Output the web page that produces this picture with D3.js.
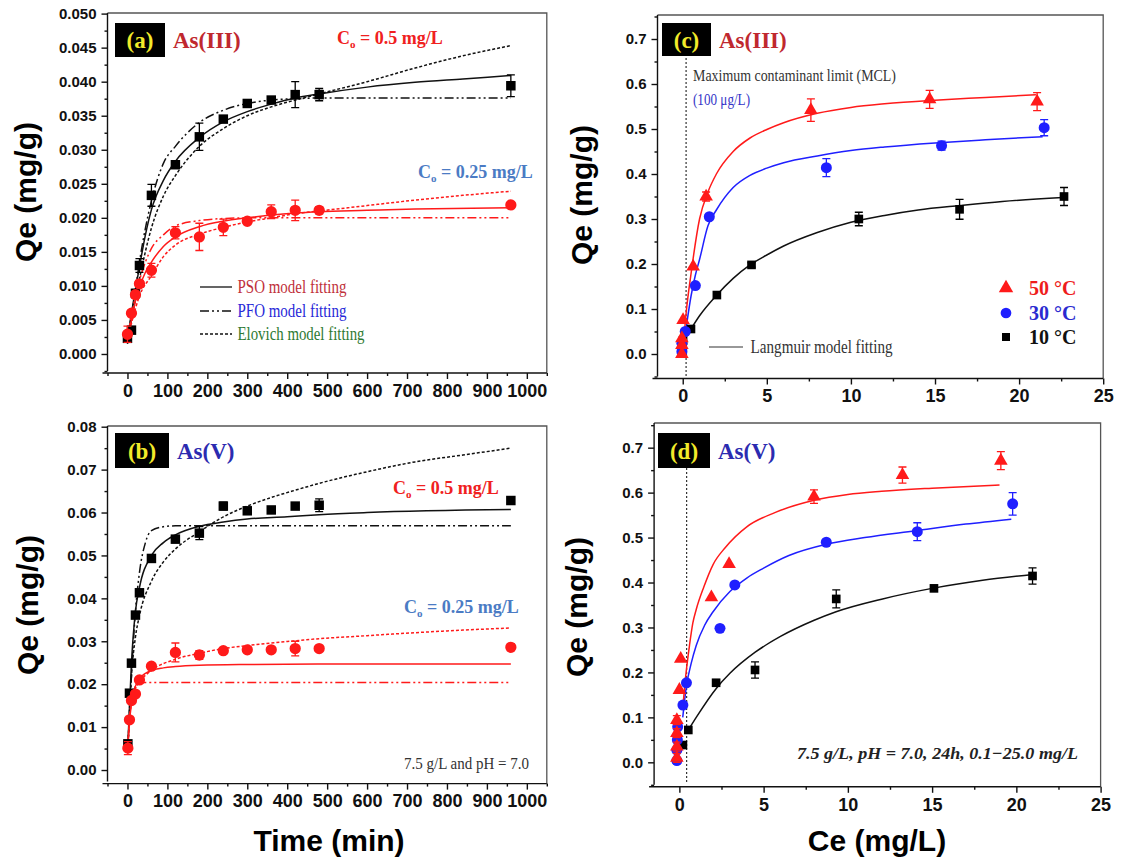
<!DOCTYPE html>
<html>
<head>
<meta charset="utf-8">
<script src="https://cdn.jsdelivr.net/npm/d3@7"></script>
<style>
  body { margin: 0; background: #fff; }
  svg { display: block; }
</style>
</head>
<body>
<div id="chart"></div>
<script>
// ---------- (a) As(III) kinetics ----------
const timeA = [0, 10, 20, 30, 60, 120, 180, 240, 300, 360, 420, 480, 960]
const qA_05 = [0.0023, 0.0035, 0.0089, 0.0130, 0.0233, 0.0278, 0.0319, 0.0345, 0.0368, 0.0373, 0.0381, 0.0381, 0.0394]
const errA_05 = [0.0003, 0.0004, 0.0006, 0.0010, 0.0016, 0.0004, 0.0020, 0.0004, 0.0003, 0.0003, 0.0019, 0.0009, 0.0016]
const qA_025 = [0.0029, 0.0060, 0.0087, 0.0103, 0.0123, 0.0178, 0.0172, 0.0186, 0.0195, 0.0209, 0.0211, 0.0211, 0.0219]
const errA_025 = [0.0012, 0.0004, 0.0005, 0.0005, 0.0010, 0.0009, 0.0020, 0.0012, 0.0004, 0.0010, 0.0015, 0.0005, 0.0004]
const psoA_05 = [[0, 0.0022], [10, 0.006], [20, 0.0095], [30, 0.0128], [45, 0.0175], [60, 0.0212], [90, 0.0255], [120, 0.0283], [180, 0.0318], [240, 0.0341], [300, 0.0356], [360, 0.0367], [420, 0.0376], [480, 0.0382], [600, 0.0392], [720, 0.0399], [840, 0.0404], [960, 0.0409]]
const pfoA_05 = [[0, 0.0022], [20, 0.0095], [30, 0.0135], [60, 0.0225], [90, 0.028], [120, 0.0305], [180, 0.034], [240, 0.0358], [300, 0.0368], [360, 0.0373], [420, 0.0375], [480, 0.0376], [960, 0.0376]]
const eloA_05 = [[0, 0.0015], [10, 0.005], [20, 0.008], [30, 0.011], [60, 0.0185], [90, 0.0232], [120, 0.0262], [180, 0.0305], [240, 0.0331], [300, 0.035], [360, 0.0363], [420, 0.0373], [480, 0.0382], [600, 0.04], [720, 0.042], [840, 0.0438], [960, 0.0453]]
const psoA_025 = [[0, 0.0025], [10, 0.005], [20, 0.0078], [30, 0.0098], [45, 0.012], [60, 0.0135], [90, 0.0158], [120, 0.0172], [180, 0.0187], [240, 0.0195], [300, 0.02], [360, 0.0204], [420, 0.0207], [480, 0.0209], [600, 0.0211], [720, 0.0213], [960, 0.0215]]
const pfoA_025 = [[0, 0.0025], [20, 0.0085], [30, 0.0108], [60, 0.0155], [90, 0.0175], [120, 0.0188], [180, 0.0196], [240, 0.0199], [300, 0.02], [960, 0.02]]
const eloA_025 = [[0, 0.002], [10, 0.0045], [30, 0.0085], [60, 0.0115], [90, 0.0143], [120, 0.016], [180, 0.0176], [240, 0.0186], [300, 0.0194], [360, 0.02], [420, 0.0206], [480, 0.021], [600, 0.0218], [720, 0.0226], [840, 0.0233], [960, 0.0239]]

// ---------- (b) As(V) kinetics ----------
const timeB = [1, 5, 10, 20, 30, 60, 120, 180, 240, 300, 360, 420, 480, 960]
const qB_05 = [0.0061, 0.0179, 0.0249, 0.0361, 0.0413, 0.0493, 0.0538, 0.0552, 0.0615, 0.0604, 0.0606, 0.0615, 0.0617, 0.0628]
const errB_05 = [0.0005, 0.0005, 0.0005, 0.0006, 0.0006, 0.0005, 0.0008, 0.0015, 0.0009, 0.0008, 0.0006, 0.0005, 0.0015, 0.0006]
const qB_025 = [0.0051, 0.0117, 0.0162, 0.0177, 0.0210, 0.0242, 0.0274, 0.0268, 0.0278, 0.0280, 0.0280, 0.0283, 0.0283, 0.0286]
const errB_025 = [0.0015, 0.0005, 0.0005, 0.0005, 0.0006, 0.0005, 0.0022, 0.0010, 0.0006, 0.0006, 0.0005, 0.0017, 0.0004, 0.0008]
const psoB_05 = [[1, 0.006], [10, 0.025], [20, 0.037], [30, 0.0425], [60, 0.05], [90, 0.053], [120, 0.0548], [180, 0.0568], [240, 0.0578], [300, 0.0585], [400, 0.059], [480, 0.0595], [600, 0.06], [960, 0.0607]]
const pfoB_05 = [[1, 0.005], [10, 0.022], [20, 0.037], [30, 0.046], [45, 0.053], [60, 0.0558], [90, 0.0567], [120, 0.0569], [960, 0.0569]]
const eloB_05 = [[1, 0.004], [5, 0.014], [10, 0.022], [20, 0.031], [30, 0.036], [60, 0.044], [90, 0.0485], [120, 0.0515], [180, 0.0555], [240, 0.059], [300, 0.0615], [360, 0.0635], [420, 0.0652], [480, 0.0668], [600, 0.0695], [720, 0.0718], [840, 0.0734], [960, 0.075]]
const psoB_025 = [[1, 0.005], [5, 0.011], [10, 0.0155], [20, 0.0195], [30, 0.0213], [45, 0.0225], [60, 0.0232], [90, 0.0238], [120, 0.0241], [180, 0.0244], [300, 0.0246], [480, 0.0247], [960, 0.0247]]
const pfoB_025 = [[1, 0.005], [5, 0.012], [10, 0.016], [20, 0.0195], [30, 0.0202], [45, 0.0204], [960, 0.0204]]
const eloB_025 = [[1, 0.006], [5, 0.012], [10, 0.0155], [20, 0.019], [30, 0.0205], [60, 0.0232], [120, 0.0258], [180, 0.0272], [240, 0.0283], [300, 0.029], [360, 0.0296], [420, 0.0301], [480, 0.0306], [600, 0.0313], [720, 0.032], [840, 0.0326], [960, 0.0331]]

// ---------- (c) As(III) isotherms ----------
const ceC_50 = [-0.05, -0.05, -0.05, 0.02, 0.62, 1.39, 7.62, 14.68, 21.07]
const qC_50 = [0.0, 0.02, 0.035, 0.0756, 0.194, 0.350, 0.542, 0.566, 0.561]
const errC_50 = [0, 0, 0, 0, 0, 0.01, 0.025, 0.02, 0.02]
const ceC_30 = [-0.05, -0.05, 0.15, 0.75, 1.58, 8.54, 15.39, 21.49]
const qC_30 = [0.005, 0.024, 0.050, 0.152, 0.305, 0.414, 0.463, 0.503]
const errC_30 = [0, 0, 0, 0, 0, 0.02, 0.01, 0.018]
const ceC_10 = [0.0, 0.0, 0.02, 0.49, 2.03, 4.09, 10.47, 16.46, 22.67]
const qC_10 = [0.005, 0.016, 0.03, 0.0556, 0.131, 0.198, 0.300, 0.3215, 0.350]
const errC_10 = [0, 0, 0, 0, 0, 0.005, 0.015, 0.022, 0.02]
const fitC_50 = [[0, 0], [0.2, 0.09], [0.5, 0.18], [1, 0.3], [1.5, 0.36], [2, 0.4], [3, 0.45], [4, 0.48], [5, 0.499], [6, 0.514], [8, 0.535], [10, 0.548], [12, 0.556], [15, 0.564], [18, 0.57], [21, 0.576]]
const fitC_30 = [[0, 0], [0.25, 0.07], [0.5, 0.13], [0.75, 0.175], [1, 0.21], [1.5, 0.285], [2, 0.32], [3, 0.37], [4, 0.397], [5, 0.413], [6, 0.425], [8, 0.44], [10, 0.452], [12, 0.46], [15, 0.469], [18, 0.476], [21.4, 0.483]]
const fitC_10 = [[0.4, 0.05], [1, 0.085], [2, 0.13], [3, 0.168], [4, 0.198], [5, 0.22], [6, 0.24], [8, 0.27], [10, 0.293], [12, 0.308], [14, 0.32], [16.5, 0.33], [19, 0.339], [22.6, 0.348]]

// ---------- (d) As(V) isotherms ----------
const ceD_50 = [-0.15, -0.15, -0.15, -0.15, 0.0, 0.08, 1.9, 2.95, 7.99, 13.24, 19.08]
const qD_50 = [0.01, 0.035, 0.065, 0.094, 0.161, 0.230, 0.367, 0.441, 0.591, 0.639, 0.671]
const errD_50 = [0.01, 0.01, 0.01, 0.01, 0, 0, 0, 0, 0.015, 0.018, 0.02]
const ceD_30 = [-0.15, -0.15, -0.12, -0.1, 0.21, 0.42, 2.41, 3.29, 8.72, 14.12, 19.78]
const qD_30 = [0.004, 0.027, 0.05, 0.079, 0.1275, 0.177, 0.298, 0.3946, 0.4896, 0.513, 0.575]
const errD_30 = [0, 0, 0, 0, 0, 0, 0, 0, 0.005, 0.02, 0.025]
const ceD_10 = [0.21, 0.53, 2.18, 4.49, 9.31, 15.11, 20.96]
const qD_10 = [0.0385, 0.072, 0.177, 0.2055, 0.3635, 0.387, 0.4146]
const errD_10 = [0, 0, 0, 0.018, 0.02, 0.005, 0.018]
const fitD_50 = [[0.2, 0.12], [0.4, 0.2], [0.6, 0.26], [0.8, 0.31], [1, 0.34], [1.45, 0.39], [2, 0.44], [2.73, 0.478], [4, 0.524], [5.7, 0.556], [8, 0.583], [10, 0.596], [12, 0.603], [15, 0.61], [19, 0.617]]
const fitD_30 = [[0.2, 0.1], [0.42, 0.17], [0.7, 0.22], [1, 0.26], [1.5, 0.305], [2, 0.335], [3, 0.38], [4, 0.41], [5, 0.432], [6.5, 0.46], [8.72, 0.485], [11, 0.5], [14, 0.515], [17, 0.53], [19.7, 0.541]]
const fitD_10 = [[0.5, 0.07], [1, 0.1], [2.2, 0.165], [3, 0.198], [4.5, 0.245], [6, 0.28], [8, 0.316], [9.3, 0.335], [12, 0.363], [15, 0.387], [18, 0.405], [21, 0.418]]

// ---------- ticks ----------
const ticksTime = d3.range(0, 1001, 100)
const minorTime = d3.range(-50, 1051, 100)
const ticksCe = [0, 5, 10, 15, 20, 25]
const minorCe = [2.5, 7.5, 12.5, 17.5, 22.5]
const ticksQA = d3.range(0, 0.0501, 0.005)
const minorQA = d3.range(-0.0025, 0.05, 0.005)
const ticksQB = d3.range(0, 0.0801, 0.01)
const minorQB = d3.range(0.005, 0.08, 0.01)
const ticksQiso = d3.range(0, 0.71, 0.1)
const minorQiso = d3.range(-0.05, 0.76, 0.1)

const RED = '#ff1a1a'
const BLUE = '#1f1fff'
const PFO_DASH = '9,3,2,3,2,3'
const ELO_DASH = '3,2'
const SANS = 'Liberation Sans, Arial, sans-serif'
const SERIF = 'Liberation Serif, Times New Roman, serif'

const svg = d3.select('#chart').append('svg')
  .attr('width', 1124).attr('height', 858)
  .style('background', '#fff')

/** 绘制单个面板 */
function panel(cfg) {
  const x = d3.scaleLinear().domain(cfg.xDomain).range(cfg.xRange)
  const y = d3.scaleLinear().domain(cfg.yDomain).range(cfg.yRange)
  const g = svg.append('g')
  const [xl, xr] = cfg.xRange
  const yb = cfg.yRange[0]

  // top and right frame
  g.append('path')
    .attr('d', `M${xl},${cfg.frameTop}H${xr}V${yb + 2}`)
    .attr('fill', 'none').attr('stroke', '#555').attr('stroke-width', 1.3)

  // y axis
  const ya = g.append('g').attr('transform', `translate(${xl},0)`)
    .call(d3.axisLeft(y).tickValues(cfg.yTicks).tickSize(6).tickPadding(5).tickFormat(d3.format(cfg.yFmt)))
  ya.select('.domain').attr('d', `M0,${yb}V${cfg.frameTop}`)
  g.append('g').attr('transform', `translate(${xl},0)`)
    .call(d3.axisLeft(y).tickValues(cfg.yMinor).tickSize(3).tickFormat(''))
    .select('.domain').remove()
  ya.selectAll('text').style('font', `bold 15px ${SANS}`).attr('fill', '#111')

  // x axis
  const xa = g.append('g').attr('transform', `translate(0,${yb + 2})`)
    .call(d3.axisBottom(x).tickValues(cfg.xTicks).tickSize(6).tickPadding(5).tickFormat(d3.format('d')))
  xa.select('.domain').attr('d', `M${xl - 5},0H${xr}`)
  g.append('g').attr('transform', `translate(0,${yb + 2})`)
    .call(d3.axisBottom(x).tickValues(cfg.xMinor).tickSize(3).tickFormat(''))
    .select('.domain').remove()
  xa.selectAll('text').style('font', `bold 18px ${SANS}`).attr('fill', '#111')
  g.selectAll('.tick line, .domain').attr('stroke', '#111').attr('stroke-width', 1.4)

  // y title
  g.append('text')
    .attr('transform', `translate(${cfg.yTitleX},${cfg.yTitleY}) rotate(-90)`)
    .attr('text-anchor', 'middle').attr('dy', '0.35em')
    .style('font', `bold 30px ${SANS}`)
    .text('Qe (mg/g)')
  if (cfg.xTitle) {
    g.append('text')
      .attr('x', cfg.xTitleX).attr('y', 840).attr('dy', '0.35em')
      .attr('text-anchor', 'middle')
      .style('font', `bold 30px ${SANS}`)
      .text(cfg.xTitle)
  }

  // panel tag
  g.append('rect')
    .attr('x', cfg.tag.x).attr('y', cfg.tag.y).attr('width', cfg.tag.w).attr('height', cfg.tag.h)
    .attr('fill', '#000')
  g.append('text')
    .attr('x', cfg.tag.x + cfg.tag.w / 2).attr('y', cfg.tag.y + cfg.tag.h / 2).attr('dy', '0.35em')
    .attr('text-anchor', 'middle').attr('fill', '#f2ea2a')
    .style('font', `bold 23px ${SERIF}`)
    .text(cfg.tag.label)
  g.append('text')
    .attr('x', cfg.tag.x + cfg.tag.w + 8).attr('y', cfg.tag.y + cfg.tag.h / 2).attr('dy', '0.35em')
    .attr('fill', cfg.tag.color)
    .style('font', `bold 23px ${SERIF}`)
    .text(cfg.tag.species)

  return { g, x, y }
}

function curve(p, pts, color, dash) {
  const line = d3.line().x(d => p.x(d[0])).y(d => p.y(d[1])).curve(d3.curveMonotoneX)
  p.g.append('path')
    .attr('d', line(pts))
    .attr('fill', 'none').attr('stroke', color).attr('stroke-width', 1.5)
    .attr('stroke-dasharray', dash || null)
}

function points(p, xs, ys, errs, color, shape, size) {
  const data = xs.map((v, i) => ({ x: v, y: ys[i], e: errs[i] }))
  const eg = p.g.append('g').attr('stroke', color).attr('stroke-width', 1.3)
  data.filter(d => d.e > 0).forEach(d => {
    const cx = p.x(d.x)
    const y1 = p.y(d.y + d.e)
    const y2 = p.y(d.y - d.e)
    eg.append('path').attr('d', `M${cx},${y1}V${y2}M${cx - 4},${y1}H${cx + 4}M${cx - 4},${y2}H${cx + 4}`)
  })
  p.g.append('g').selectAll('path.pt').data(data).enter()
    .append('path')
    .attr('transform', d => `translate(${p.x(d.x)},${p.y(d.y)})`)
    .attr('d', d3.symbol().type(shape).size(size))
    .attr('fill', color)
}

function label(g, x, y, parts, font, color, anchor) {
  const t = g.append('text').attr('x', x).attr('y', y).attr('dy', '0.35em')
    .attr('text-anchor', anchor || 'start').attr('fill', color).style('font', font)
  parts.forEach(pt => {
    const s = t.append('tspan').text(pt.t)
    if (pt.sub) s.attr('dy', 4).style('font-size', '11px')
    if (pt.up) s.attr('dy', -4)
  })
  return t
}
function c0(g, x, y, val, color) {
  label(g, x, y, [{ t: 'C' }, { t: 'o', sub: true }, { t: ' = ' + val + ' mg/L', up: true }], `bold 18px ${SERIF}`, color)
}

// ================= panel (a) =================
const pa = panel({
  xDomain: [-50, 1050], xRange: [107.5, 546.8],
  yDomain: [-0.0025, 0.05], yRange: [371, 13.6], frameTop: 13,
  xTicks: ticksTime, xMinor: minorTime, yTicks: ticksQA, yMinor: minorQA, yFmt: '.3f',
  yTitleX: 25, yTitleY: 192,
  tag: { x: 115, y: 23, w: 50, h: 34, label: '(a)', species: 'As(III)', color: '#c0282e' }
})
curve(pa, pfoA_05, '#111', PFO_DASH)
curve(pa, eloA_05, '#111', ELO_DASH)
curve(pa, psoA_05, '#111')
curve(pa, pfoA_025, RED, PFO_DASH)
curve(pa, eloA_025, RED, ELO_DASH)
curve(pa, psoA_025, RED)
points(pa, timeA, qA_05, errA_05, '#000', d3.symbolSquare, 90)
points(pa, timeA, qA_025, errA_025, RED, d3.symbolCircle, 100)
c0(pa.g, 337, 38, '0.5', '#f02020')
c0(pa.g, 418, 172, '0.25', '#4b7bc4')
const legA = [
  { t: 'PSO model fitting', c: '#c0303a', dash: null, y: 287, w: 109 },
  { t: 'PFO model fitting', c: '#2828d8', dash: PFO_DASH, y: 311, w: 109 },
  { t: 'Elovich model fitting', c: '#2e7a32', dash: ELO_DASH, y: 334, w: 127 }
]
legA.forEach(d => {
  pa.g.append('line').attr('x1', 200).attr('x2', 232).attr('y1', d.y).attr('y2', d.y)
    .attr('stroke', '#111').attr('stroke-width', 1.3).attr('stroke-dasharray', d.dash)
  label(pa.g, 237.5, d.y, [{ t: d.t }], `18px ${SERIF}`, d.c)
    .attr('textLength', d.w).attr('lengthAdjust', 'spacingAndGlyphs')
})

// ================= panel (b) =================
const pb = panel({
  xDomain: [-50, 1050], xRange: [107.5, 546.8],
  yDomain: [-0.0027, 0.08], yRange: [781.6, 426.7], frameTop: 426,
  xTicks: ticksTime, xMinor: minorTime, yTicks: ticksQB, yMinor: minorQB, yFmt: '.2f',
  yTitleX: 27, yTitleY: 605, xTitle: 'Time (min)', xTitleX: 329,
  tag: { x: 115, y: 433, w: 54, h: 35, label: '(b)', species: 'As(V)', color: '#2b2bb0' }
})
curve(pb, pfoB_05, '#111', PFO_DASH)
curve(pb, eloB_05, '#111', ELO_DASH)
curve(pb, psoB_05, '#111')
curve(pb, pfoB_025, RED, PFO_DASH)
curve(pb, eloB_025, RED, ELO_DASH)
curve(pb, psoB_025, RED)
points(pb, timeB, qB_05, errB_05, '#000', d3.symbolSquare, 90)
points(pb, timeB, qB_025, errB_025, RED, d3.symbolCircle, 100)
c0(pb.g, 393, 488, '0.5', '#f02020')
c0(pb.g, 404, 607, '0.25', '#4b7bc4')
label(pb.g, 404, 763, [{ t: '7.5 g/L and pH = 7.0' }], `17px ${SERIF}`, '#333')
  .attr('textLength', 125).attr('lengthAdjust', 'spacingAndGlyphs')

// ================= panel (c) =================
const pc = panel({
  xDomain: [-1.5, 25], xRange: [657.5, 1103.2],
  yDomain: [-0.05, 0.75], yRange: [376.5, 16.5], frameTop: 15,
  xTicks: ticksCe, xMinor: minorCe, yTicks: ticksQiso, yMinor: minorQiso, yFmt: '.1f',
  yTitleX: 581, yTitleY: 195,
  tag: { x: 662, y: 23, w: 49, h: 33, label: '(c)', species: 'As(III)', color: '#c0282e' }
})
pc.g.append('line').attr('x1', pc.x(0.2)).attr('x2', pc.x(0.2)).attr('y1', 58).attr('y2', 377)
  .attr('stroke', '#333').attr('stroke-width', 1.2).attr('stroke-dasharray', '2,2')
curve(pc, fitC_10, '#111')
curve(pc, fitC_30, BLUE)
curve(pc, fitC_50, RED)
points(pc, ceC_10, qC_10, errC_10, '#000', d3.symbolSquare, 75)
points(pc, ceC_30, qC_30, errC_30, BLUE, d3.symbolCircle, 95)
points(pc, ceC_50, qC_50, errC_50, RED, d3.symbolTriangle, 80)
label(pc.g, 693, 75, [{ t: 'Maximum contaminant limit (MCL)' }], `17px ${SERIF}`, '#333')
  .attr('textLength', 203).attr('lengthAdjust', 'spacingAndGlyphs')
label(pc.g, 693, 99, [{ t: '(100 μg/L)' }], `16px ${SERIF}`, '#3535c8')
  .attr('textLength', 57).attr('lengthAdjust', 'spacingAndGlyphs')
pc.g.append('line').attr('x1', 709).attr('x2', 743).attr('y1', 347).attr('y2', 347)
  .attr('stroke', '#333').attr('stroke-width', 1.2)
label(pc.g, 750.6, 347, [{ t: 'Langmuir model fitting' }], `18px ${SERIF}`, '#333')
  .attr('textLength', 142).attr('lengthAdjust', 'spacingAndGlyphs')
const legC = [
  { t: '50 °C', c: '#ee1c1c', f: RED, s: d3.symbolTriangle, z: 90, y: 288 },
  { t: '30 °C', c: '#2a2ad0', f: BLUE, s: d3.symbolCircle, z: 90, y: 313 },
  { t: '10 °C', c: '#111', f: '#000', s: d3.symbolSquare, z: 64, y: 337 }
]
legC.forEach(d => {
  pc.g.append('path').attr('transform', `translate(1006,${d.y})`)
    .attr('d', d3.symbol().type(d.s).size(d.z)).attr('fill', d.f)
  label(pc.g, 1029, d.y, [{ t: d.t }], `bold 20px ${SERIF}`, d.c)
})

// ================= panel (d) =================
const pd = panel({
  xDomain: [-1.5, 25], xRange: [654.1, 1100.6],
  yDomain: [-0.05, 0.75], yRange: [784.8, 425.2], frameTop: 423,
  xTicks: ticksCe, xMinor: minorCe, yTicks: ticksQiso, yMinor: minorQiso, yFmt: '.1f',
  yTitleX: 576, yTitleY: 607, xTitle: 'Ce (mg/L)', xTitleX: 877,
  tag: { x: 658, y: 433, w: 52, h: 35, label: '(d)', species: 'As(V)', color: '#2b2bb0' }
})
pd.g.append('line').attr('x1', pd.x(0.43)).attr('x2', pd.x(0.43)).attr('y1', 468).attr('y2', 784)
  .attr('stroke', '#333').attr('stroke-width', 1.2).attr('stroke-dasharray', '2,2')
curve(pd, fitD_10, '#111')
curve(pd, fitD_30, BLUE)
curve(pd, fitD_50, RED)
points(pd, ceD_10, qD_10, errD_10, '#000', d3.symbolSquare, 75)
points(pd, ceD_30, qD_30, errD_30, BLUE, d3.symbolCircle, 95)
points(pd, ceD_50, qD_50, errD_50, RED, d3.symbolTriangle, 80)
label(pd.g, 797, 753, [{ t: '7.5 g/L, pH = 7.0, 24h, 0.1\u221225.0 mg/L' }], `italic bold 17px ${SERIF}`, '#222')
  .attr('textLength', 281).attr('lengthAdjust', 'spacingAndGlyphs')
</script>
</body>
</html>
